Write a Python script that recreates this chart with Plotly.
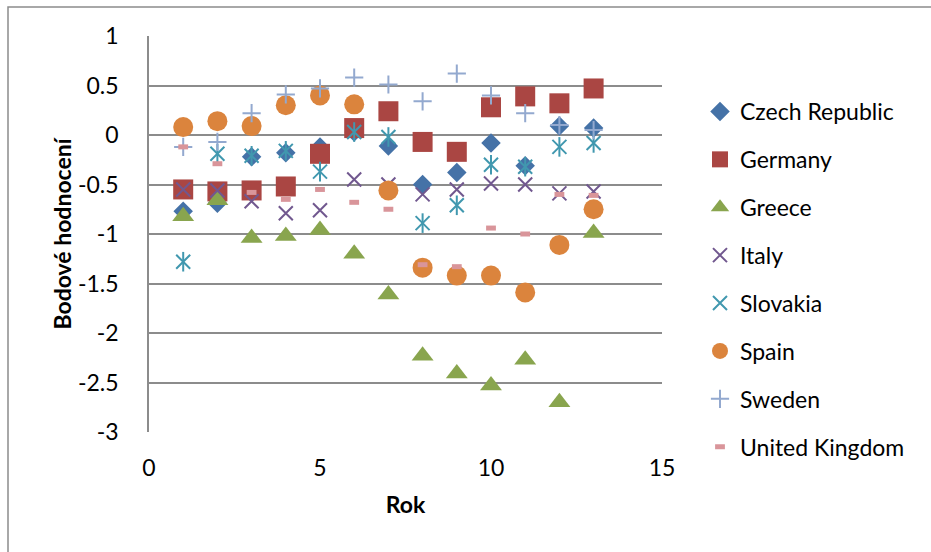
import plotly.graph_objects as go

# Yearly score per country
years = list(range(1, 14))
czech_republic = [-0.77, -0.69, -0.22, -0.18, -0.12, 0.03, -0.11, -0.50, -0.38, -0.08, -0.31, 0.09, 0.07]
germany = [-0.55, -0.57, -0.56, -0.52, -0.19, 0.07, 0.24, -0.07, -0.17, 0.28, 0.39, 0.32, 0.47]
greece = [-0.82, -0.66, -1.04, -1.02, -0.96, -1.20, -1.61, -2.23, -2.41, -2.53, -2.27, -2.70, -0.99]
italy = [-0.55, -0.56, -0.67, -0.79, -0.76, -0.45, -0.50, -0.60, -0.55, -0.49, -0.50, -0.59, -0.57]
slovakia = [-1.28, -0.19, -0.21, -0.16, -0.37, 0.03, -0.02, -0.89, -0.71, -0.30, -0.32, -0.12, -0.08]
spain = [0.08, 0.14, 0.09, 0.30, 0.40, 0.31, -0.56, -1.34, -1.42, -1.42, -1.59, -1.11, -0.75]
sweden = [-0.12, -0.07, 0.22, 0.41, 0.47, 0.58, 0.51, 0.34, 0.62, 0.40, 0.22, 0.10, 0.05]
united_kingdom = [-0.12, -0.29, -0.58, -0.65, -0.55, -0.68, -0.75, -1.31, -1.33, -0.94, -1.00, -0.60, -0.61]

y_ticks = [1, 0.5, 0, -0.5, -1, -1.5, -2, -2.5, -3]
x_ticks = [0, 5, 10, 15]

FONT = "Lato, 'Open Sans', sans-serif"
FS = 23
GRID = "#8C8C8C"

fig = go.Figure()


def add(name, values, symbol, color, size, line_w=0, line_color=None, show=True):
    fig.add_trace(go.Scatter(
        x=years, y=values, mode="markers", name=name,
        legendgroup=name, showlegend=show,
        marker=dict(symbol=symbol, size=size, color=color,
                    line=dict(width=line_w, color=line_color or color)),
        hoverinfo="x+y+name",
    ))


add("Czech Republic", czech_republic, "diamond", "#4572A7", 15)
add("Germany", germany, "square", "#AA4643", 20)
add("Greece", greece, "triangle-up", "#89A54E", 19)
add("Italy", italy, "x-thin-open", "#71588F", 14, 2)
add("Slovakia", slovakia, "x-thin-open", "#4198AF", 14, 2)
# vertical stroke completing the six-armed Slovakia marker
add("Slovakia", slovakia, "line-ns-open", "#4198AF", 14, 2, show=False)
add("Spain", spain, "circle", "#DB843D", 20)
add("Sweden", sweden, "cross-thin-open", "#93A9CF", 13, 2)
add("United Kingdom", united_kingdom, "line-ew-open", "#D9959A", 7, 5)

W, H = 931, 552
L, R, T, B = 149, 269, 36, 120
pw, ph = W - L - R, H - T - B


def px_x(p):
    return (p - L) / pw


def px_y(p):
    return (H - B - p) / ph


fig.update_layout(
    width=W, height=H,
    margin=dict(l=L, r=R, t=T, b=B),
    paper_bgcolor="white", plot_bgcolor="white",
    font=dict(family=FONT, size=FS, color="black"),
    showlegend=True,
    legend=dict(
        x=px_x(700), y=px_y(90), xanchor="left", yanchor="top",
        font=dict(size=FS), tracegroupgap=15, traceorder="grouped",
        bgcolor="rgba(0,0,0,0)",
    ),
    xaxis=dict(
        range=[0, 15], tickvals=x_ticks, ticktext=[str(v) for v in x_ticks],
        showgrid=False, zeroline=False, showline=False, ticks="",
        ticklabelstandoff=20,
        title=dict(text="<b>Rok</b>", font=dict(size=FS), standoff=16),
    ),
    yaxis=dict(
        range=[-3, 1], tickvals=y_ticks, ticktext=[f"{v:g}" for v in y_ticks],
        showgrid=True, gridcolor=GRID, gridwidth=1.5, zeroline=False,
        showline=True, linecolor=GRID, linewidth=1.5, ticks="",
        ticklabelstandoff=24,
        title=dict(text="<b>Bodové hodnocení</b>", font=dict(size=FS), standoff=0),
    ),
    shapes=[
        dict(type="rect", xref="paper", yref="paper", layer="below",
             x0=px_x(8), x1=px_x(940), y0=px_y(560), y1=px_y(7),
             line=dict(color=GRID, width=1.5), fillcolor="rgba(0,0,0,0)"),
    ],
)

fig.write_html("out.html")
